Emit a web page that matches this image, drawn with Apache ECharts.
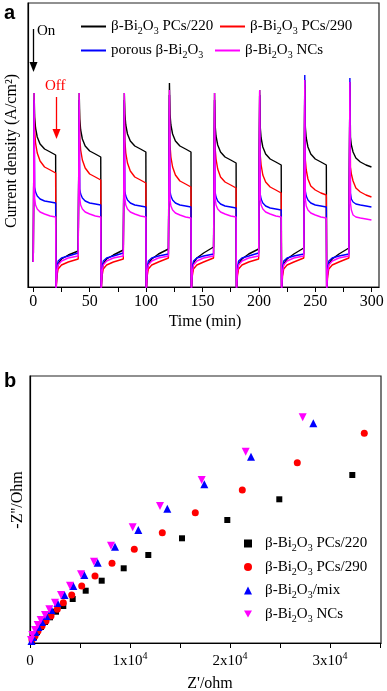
<!DOCTYPE html>
<html><head><meta charset="utf-8">
<script src="https://cdn.jsdelivr.net/npm/echarts@6/dist/echarts.min.js"></script>
<style>html,body{margin:0;padding:0;background:#fff}#c{width:387px;height:691px}</style>
</head><body><div id="c"></div>
<script>
// ---------- Panel a: photocurrent on/off cycles ----------
const cycleStarts = [0, 40, 80, 120, 160, 200, 240, 280];
const sampleOffsets = [0.7, 1.2, 2, 3.5, 6, 10, 15, 19.8, 20.1, 20.5, 21, 22, 25, 31, 39.8];
const initialDark = 0.25;
const xTickValues = [0, 25, 50, 75, 100, 125, 150, 175, 200, 225, 250, 275, 300];
const xLabelValues = [0, 50, 100, 150, 200, 250, 300];

const pcs220 = [
  [1.94,1.70,1.59,1.50,1.43,1.38,1.35,1.32,-0.08,0.05,0.15,0.23,0.28,0.32,0.36],
  [1.94,1.68,1.57,1.48,1.41,1.36,1.33,1.30,-0.08,0.05,0.15,0.23,0.28,0.32,0.37],
  [1.94,1.73,1.62,1.53,1.46,1.41,1.38,1.35,-0.08,0.05,0.15,0.23,0.28,0.33,0.38],
  [2.04,1.73,1.62,1.53,1.46,1.41,1.38,1.35,-0.08,0.05,0.15,0.24,0.29,0.34,0.40],
  [1.94,1.62,1.51,1.42,1.35,1.30,1.27,1.24,-0.08,0.05,0.15,0.23,0.28,0.33,0.38],
  [1.97,1.60,1.49,1.40,1.33,1.28,1.25,1.22,-0.08,0.05,0.15,0.23,0.28,0.33,0.39],
  [2.07,1.60,1.49,1.40,1.33,1.28,1.25,1.22,-0.08,0.05,0.15,0.23,0.28,0.33,0.39],
  [2.05,1.50,1.42,1.35,1.29,1.25,1.22,1.20]
];
const pcs290 = [
  [1.87,1.56,1.44,1.34,1.26,1.20,1.17,1.14,-0.08,0.02,0.11,0.18,0.22,0.25,0.28],
  [1.87,1.49,1.37,1.27,1.19,1.13,1.10,1.07,-0.08,0.02,0.11,0.18,0.22,0.25,0.28],
  [1.87,1.46,1.34,1.24,1.16,1.10,1.07,1.04,-0.08,0.02,0.11,0.18,0.22,0.25,0.29],
  [1.92,1.42,1.30,1.20,1.12,1.06,1.03,1.00,-0.08,0.02,0.11,0.18,0.22,0.25,0.29],
  [1.87,1.39,1.28,1.18,1.10,1.05,1.02,0.99,-0.08,0.02,0.11,0.18,0.22,0.25,0.28],
  [1.92,1.32,1.22,1.12,1.05,1.00,0.97,0.94,-0.08,0.02,0.11,0.18,0.22,0.25,0.29],
  [2.02,1.27,1.17,1.08,1.01,0.97,0.94,0.92,-0.08,0.02,0.11,0.18,0.22,0.25,0.29],
  [1.99,1.20,1.13,1.06,0.99,0.95,0.92,0.90]
];
const porous = [
  [1.87,1.00,0.95,0.91,0.88,0.86,0.85,0.84,-0.08,0.07,0.19,0.26,0.29,0.31,0.34],
  [1.87,0.98,0.93,0.89,0.86,0.84,0.83,0.82,-0.08,0.07,0.19,0.26,0.29,0.31,0.34],
  [1.87,0.96,0.91,0.87,0.84,0.82,0.81,0.80,-0.08,0.07,0.19,0.26,0.29,0.31,0.33],
  [1.92,0.96,0.91,0.87,0.84,0.82,0.81,0.80,-0.08,0.07,0.19,0.26,0.29,0.31,0.33],
  [1.87,0.95,0.90,0.86,0.83,0.81,0.80,0.79,-0.08,0.07,0.19,0.26,0.29,0.31,0.34],
  [1.92,0.93,0.88,0.84,0.81,0.79,0.78,0.77,-0.08,0.07,0.19,0.26,0.29,0.31,0.33],
  [2.12,0.96,0.91,0.87,0.84,0.82,0.81,0.80,-0.08,0.07,0.19,0.26,0.29,0.31,0.33],
  [2.09,0.94,0.88,0.85,0.83,0.82,0.81,0.80]
];
const ncs = [
  [1.94,0.89,0.82,0.78,0.75,0.73,0.71,0.70,-0.08,0.04,0.15,0.22,0.26,0.29,0.31],
  [1.94,0.89,0.82,0.78,0.75,0.73,0.71,0.70,-0.08,0.04,0.15,0.22,0.26,0.29,0.31],
  [1.94,0.89,0.82,0.78,0.75,0.73,0.71,0.70,-0.08,0.04,0.15,0.22,0.26,0.29,0.31],
  [1.97,0.88,0.81,0.77,0.74,0.72,0.70,0.69,-0.08,0.04,0.15,0.22,0.26,0.29,0.31],
  [1.94,0.89,0.82,0.78,0.75,0.73,0.71,0.70,-0.08,0.04,0.15,0.22,0.26,0.29,0.31],
  [1.97,0.89,0.82,0.78,0.75,0.73,0.71,0.70,-0.08,0.04,0.15,0.22,0.26,0.29,0.31],
  [2.07,0.88,0.81,0.77,0.74,0.72,0.70,0.69,-0.08,0.04,0.15,0.22,0.26,0.29,0.31],
  [2.05,0.84,0.77,0.72,0.70,0.69,0.68,0.67]
];

// ---------- Panel b: Nyquist plot ----------
const zre220 = [32230,24930,19730,15200,11830,9370,7170,5570,4270,3330,2600,2000,1500,1100,700,400,200];
const zim220 = [16800,14370,12300,10470,8800,7470,6230,5230,4400,3700,3130,2570,2100,1600,1100,600,200];
const zre290 = [33430,26730,21230,16530,13230,10430,8200,6500,5170,4170,3330,2730,2100,1600,1200,800,500,200];
const zim290 = [20970,18030,15300,13030,11030,9370,7970,6700,5700,4800,4030,3370,2700,2200,1700,1200,700,300];
const zreMix = [28330,22100,17430,13730,10830,8500,6770,5430,4330,3450,2750,2150,1650,1200,850,550,300,150];
const zimMix = [21970,18630,15870,13430,11300,9630,8030,6800,5700,4800,4000,3300,2700,2100,1600,1100,600,200];
const zreNCs = [27270,21570,17170,13000,10270,8100,6400,5100,4000,3100,2500,1930,1500,1070,770,500,230,100];
const zimNCs = [22570,19130,16300,13700,11570,9730,8130,6870,5730,4800,4030,3370,2800,2300,1800,1300,800,300];
const bTickValues = [0,5000,10000,15000,20000,25000,30000,35000];
const bLabelValues = [0,10000,20000,30000];

const SERIF = '"Liberation Serif","Times New Roman",serif';

function buildCycles(vals) {
  const out = [[0, initialDark]];
  vals.forEach((cyc, ci) => cyc.forEach((v, j) => out.push([cycleStarts[ci] + sampleOffsets[j], v])));
  return out;
}
function zip(xs, ys) { return xs.map((x, i) => [x, ys[i]]); }

const rich = {
  n: {fontFamily: SERIF, fontSize: 15, lineHeight: 20, color: '#000'},
  s: {fontFamily: SERIF, fontSize: 10, lineHeight: 11, verticalAlign: 'bottom', color: '#000'},
  p: {fontFamily: SERIF, fontSize: 10, lineHeight: 11, verticalAlign: 'top', color: '#000'}
};
const legendText = {
  a220: '{n|β-Bi}{s|2}{n|O}{s|3}{n| PCs/220}',
  a290: '{n|β-Bi}{s|2}{n|O}{s|3}{n| PCs/290}',
  aPorous: '{n|porous β-Bi}{s|2}{n|O}{s|3}',
  aNCs: '{n|β-Bi}{s|2}{n|O}{s|3}{n| NCs}',
  b220: '{n|β-Bi}{s|2}{n|O}{s|3}{n| PCs/220}',
  b290: '{n|β-Bi}{s|2}{n|O}{s|3}{n| PCs/290}',
  bMix: '{n|β-Bi}{s|2}{n|O}{s|3}{n|/mix}',
  bNCs: '{n|β-Bi}{s|2}{n|O}{s|3}{n| NCs}'
};
const legendA = (name, left, top) => ({
  data: [name], left, top, icon: 'rect', itemWidth: 25, itemHeight: 2, padding: 0,
  formatter: n => legendText[n], textStyle: {rich}, selectedMode: false
});

const lineSeries = (name, data, color) => ({
  name, type: 'line', xAxisIndex: 0, yAxisIndex: 0, data, showSymbol: false, symbol: 'none',
  lineStyle: {color, width: 1.4}, itemStyle: {color}, clip: true
});
const scatterSeries = (name, data, color, symbol, size) => ({
  name, type: 'scatter', xAxisIndex: 1, yAxisIndex: 1, data, symbol, symbolSize: size,
  itemStyle: {color, opacity: 1}
});

const chart = echarts.init(document.getElementById('c'), null, {renderer: 'canvas'});
chart.setOption({
  animation: false,
  backgroundColor: '#fff',
  grid: [
    {left: 28, top: 3, width: 351, height: 284, show: true, borderColor: '#222', borderWidth: 1.2, backgroundColor: 'transparent'},
    {left: 30, top: 376, width: 351, height: 267, show: true, borderColor: '#222', borderWidth: 1.2, backgroundColor: 'transparent'}
  ],
  xAxis: [
    {gridIndex: 0, type: 'value', min: -4.7, max: 306.5,
     axisLine: {show: true, onZero: false, lineStyle: {color: '#000', width: 1.2}},
     axisTick: {show: true, customValues: xTickValues, length: 5, lineStyle: {color: '#000'}},
     axisLabel: {customValues: xLabelValues, fontFamily: SERIF, fontSize: 16, color: '#000', margin: 7},
     splitLine: {show: false}},
    {gridIndex: 1, type: 'value', min: 0, max: 35100,
     axisLine: {show: true, onZero: false, lineStyle: {color: '#000', width: 1.2}},
     axisTick: {show: true, customValues: bTickValues, length: 5, lineStyle: {color: '#000'}},
     axisLabel: {customValues: bLabelValues, margin: 8,
       formatter: v => v === 0 ? '{n|0}' : '{n|' + (v / 10000) + 'x10}{p|4}', rich},
     splitLine: {show: false}}
  ],
  yAxis: [
    {gridIndex: 0, type: 'value', min: 0, max: 2.84,
     axisLine: {show: true, onZero: false, lineStyle: {color: '#000', width: 1.2}},
     axisTick: {show: false}, axisLabel: {show: false}, splitLine: {show: false}},
    {gridIndex: 1, type: 'value', min: 0, max: 26700,
     axisLine: {show: true, onZero: false, lineStyle: {color: '#000', width: 1.2}},
     axisTick: {show: false}, axisLabel: {show: false}, splitLine: {show: false}}
  ],
  legend: [
    legendA('a220', 81, 19),
    legendA('a290', 220, 19),
    legendA('aPorous', 81, 43),
    legendA('aNCs', 215, 43),
    {data: ['b220', 'b290', 'bMix', 'bNCs'], orient: 'vertical', left: 244, top: 536,
     itemWidth: 8, itemHeight: 8, itemGap: 6, padding: 0, selectedMode: false,
     formatter: n => legendText[n], textStyle: {rich, padding: [0, 0, 0, 8]}}
  ],
  series: [
    lineSeries('a220', buildCycles(pcs220), '#000000'),
    lineSeries('a290', buildCycles(pcs290), '#ff0000'),
    lineSeries('aPorous', buildCycles(porous), '#0000ff'),
    lineSeries('aNCs', buildCycles(ncs), '#ff00ff'),
    scatterSeries('b220', zip(zre220, zim220), '#000000', 'rect', 6),
    scatterSeries('b290', zip(zre290, zim290), '#ff0000', 'circle', 7),
    scatterSeries('bMix', zip(zreMix, zimMix), '#0000ff', 'triangle', 8),
    scatterSeries('bNCs', zip(zreNCs, zimNCs), '#ff00ff', 'path://M0,0 L10,0 L5,9 Z', 8)
  ],
  graphic: [
    {type: 'text', left: 4, top: 3, style: {text: 'a', font: 'bold 20px "Liberation Sans", Arial, sans-serif', fill: '#000'}},
    {type: 'text', left: 4, top: 371, style: {text: 'b', font: 'bold 20px "Liberation Sans", Arial, sans-serif', fill: '#000'}},
    {type: 'text', left: 37, top: 24, style: {text: 'On', font: '15px ' + SERIF, fill: '#000'}},
    {type: 'line', shape: {x1: 33.5, y1: 29, x2: 33.5, y2: 64}, style: {stroke: '#000', lineWidth: 1.3}},
    {type: 'polygon', shape: {points: [[29.5, 62], [37.5, 62], [33.5, 72]]}, style: {fill: '#000'}},
    {type: 'text', left: 45, top: 79, style: {text: 'Off', font: '15px ' + SERIF, fill: '#ff0000'}},
    {type: 'line', shape: {x1: 56.5, y1: 97, x2: 56.5, y2: 131}, style: {stroke: '#ff0000', lineWidth: 1.3}},
    {type: 'polygon', shape: {points: [[52.5, 129], [60.5, 129], [56.5, 139]]}, style: {fill: '#ff0000'}},
    {type: 'text', x: 205, y: 322, style: {text: 'Time (min)', font: '16px ' + SERIF, fill: '#000', align: 'center', verticalAlign: 'middle'}},
    {type: 'text', x: 12, y: 151, rotation: Math.PI / 2, style: {text: 'Current density (A/cm²)', font: '16px ' + SERIF, fill: '#000', align: 'center', verticalAlign: 'middle'}},
    {type: 'text', x: 210, y: 684, style: {text: "Z'/ohm", font: '16px ' + SERIF, fill: '#000', align: 'center', verticalAlign: 'middle'}},
    {type: 'text', x: 18, y: 500, rotation: Math.PI / 2, style: {text: "-Z''/Ohm", font: '16px ' + SERIF, fill: '#000', align: 'center', verticalAlign: 'middle'}}
  ]
});
</script></body></html>
